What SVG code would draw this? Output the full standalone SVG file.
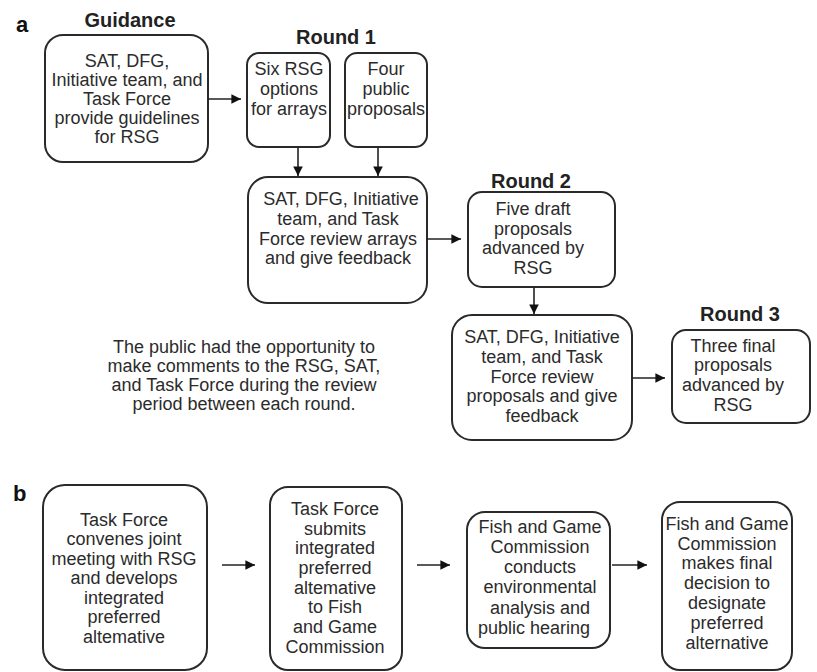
<svg xmlns="http://www.w3.org/2000/svg" width="817" height="672" viewBox="0 0 817 672">
<defs>
<style>
.box{fill:#fff;stroke:#2a2a2a;stroke-width:2}
.t{font-family:"Liberation Sans",Arial,sans-serif;font-size:18px;fill:#2b2b2b;text-anchor:middle}
.h{font-family:"Liberation Sans",Arial,sans-serif;font-size:20px;font-weight:bold;fill:#222;text-anchor:middle}
.lab{font-family:"Liberation Sans",Arial,sans-serif;font-size:22px;font-weight:bold;fill:#111}
.c{stroke:#222;stroke-width:1.6;fill:none;marker-end:url(#ah)}
</style>
<marker id="ah" viewBox="0 0 10 10" refX="10" refY="5" markerWidth="6" markerHeight="6" markerUnits="strokeWidth" orient="auto">
<path d="M0,0 L10,5 L0,10 z" fill="#111"/>
</marker>
</defs>
<rect width="817" height="672" fill="#fff"/>

<text class="lab" x="16" y="32">a</text>
<text class="lab" x="13" y="501">b</text>

<text class="h" x="130" y="27">Guidance</text>
<text class="h" x="336" y="44">Round 1</text>
<text class="h" x="531" y="188">Round 2</text>
<text class="h" x="740" y="321">Round 3</text>

<g id="guidance">
<rect class="box" x="45" y="35" width="163" height="127" rx="18"/>
<text class="t"><tspan x="127" y="67">SAT, DFG,</tspan><tspan x="127" y="86">Initiative team, and</tspan><tspan x="127" y="105">Task Force</tspan><tspan x="127" y="124">provide guidelines</tspan><tspan x="127" y="143">for RSG</tspan></text>
</g>

<g id="six-rsg">
<rect class="box" x="247" y="53" width="83" height="94" rx="12"/>
<text class="t"><tspan x="289" y="75">Six RSG</tspan><tspan x="289" y="95">options</tspan><tspan x="289" y="115">for arrays</tspan></text>
</g>

<g id="four-public">
<rect class="box" x="345" y="53" width="82" height="94" rx="12"/>
<text class="t"><tspan x="386" y="75">Four</tspan><tspan x="386" y="95">public</tspan><tspan x="386" y="115">proposals</tspan></text>
</g>

<g id="review-arrays">
<rect class="box" x="248" y="177" width="179" height="126" rx="20"/>
<text class="t"><tspan x="341" y="205">SAT, DFG, Initiative</tspan><tspan x="338" y="225">team, and Task</tspan><tspan x="338" y="245">Force review arrays</tspan><tspan x="338" y="264">and give feedback</tspan></text>
</g>

<g id="five-draft">
<rect class="box" x="468" y="192" width="147" height="95" rx="14"/>
<text class="t"><tspan x="533" y="215">Five draft</tspan><tspan x="533" y="235">proposals</tspan><tspan x="533" y="254">advanced by</tspan><tspan x="533" y="274">RSG</tspan></text>
</g>

<g id="review-proposals">
<rect class="box" x="452" y="315" width="180" height="125" rx="20"/>
<text class="t"><tspan x="542" y="343">SAT, DFG, Initiative</tspan><tspan x="542" y="363">team, and Task</tspan><tspan x="542" y="383">Force review</tspan><tspan x="542" y="402">proposals and give</tspan><tspan x="542" y="422">feedback</tspan></text>
</g>

<g id="three-final">
<rect class="box" x="672" y="330" width="138" height="93" rx="14"/>
<text class="t"><tspan x="733" y="352">Three final</tspan><tspan x="733" y="371">proposals</tspan><tspan x="733" y="391">advanced by</tspan><tspan x="733" y="411">RSG</tspan></text>
</g>

<g id="public-note">
<text class="t"><tspan x="244" y="353">The public had the opportunity to</tspan><tspan x="244" y="372">make comments to the RSG, SAT,</tspan><tspan x="244" y="391">and Task Force during the review</tspan><tspan x="244" y="410">period between each round.</tspan></text>
</g>

<g id="b-convene">
<rect class="box" x="43" y="485" width="164" height="185" rx="22"/>
<text class="t"><tspan x="124" y="526">Task Force</tspan><tspan x="124" y="545">convenes joint</tspan><tspan x="124" y="565">meeting with RSG</tspan><tspan x="124" y="584">and develops</tspan><tspan x="124" y="604">integrated</tspan><tspan x="124" y="623">preferred</tspan><tspan x="124" y="643">altemative</tspan></text>
</g>

<g id="b-submit">
<rect class="box" x="270" y="487" width="132" height="183" rx="18"/>
<text class="t"><tspan x="335" y="515">Task Force</tspan><tspan x="335" y="535">submits</tspan><tspan x="335" y="554">integrated</tspan><tspan x="335" y="574">preferred</tspan><tspan x="335" y="594">altemative</tspan><tspan x="335" y="613">to Fish</tspan><tspan x="335" y="633">and Game</tspan><tspan x="335" y="653">Commission</tspan></text>
</g>

<g id="b-analysis">
<rect class="box" x="467" y="512" width="143" height="136" rx="18"/>
<text class="t"><tspan x="540" y="533">Fish and Game</tspan><tspan x="540" y="553">Commission</tspan><tspan x="540" y="573">conducts</tspan><tspan x="540" y="593">environmental</tspan><tspan x="540" y="614">analysis and</tspan><tspan x="534" y="634">public hearing</tspan></text>
</g>

<g id="b-decision">
<rect class="box" x="662" y="502" width="130" height="168" rx="18"/>
<text class="t"><tspan x="727" y="530">Fish and Game</tspan><tspan x="727" y="550">Commission</tspan><tspan x="727" y="569">makes final</tspan><tspan x="727" y="589">decision to</tspan><tspan x="727" y="609">designate</tspan><tspan x="727" y="629">preferred</tspan><tspan x="727" y="649">alternative</tspan></text>
</g>

<g id="connectors">
<line class="c" x1="208" y1="99" x2="241" y2="99"/>
<line class="c" x1="298" y1="147" x2="298" y2="176"/>
<line class="c" x1="378" y1="147" x2="378" y2="176"/>
<line class="c" x1="427" y1="239" x2="461" y2="239"/>
<line class="c" x1="534" y1="287" x2="534" y2="314"/>
<line class="c" x1="632" y1="378" x2="665" y2="378"/>
<line class="c" x1="222" y1="565" x2="255" y2="565"/>
<line class="c" x1="417" y1="565" x2="450" y2="565"/>
<line class="c" x1="612" y1="565" x2="647" y2="565"/>
</g>
</svg>
